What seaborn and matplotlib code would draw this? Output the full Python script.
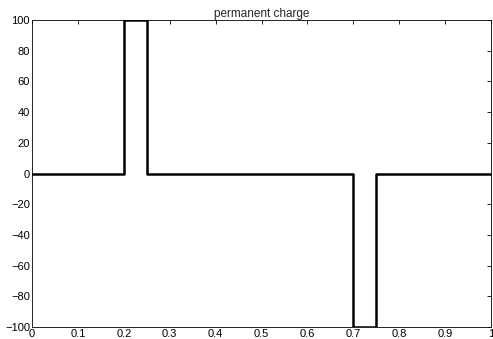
import numpy as np
import pandas as pd
import seaborn as sns
import matplotlib
matplotlib.use("Agg")
import matplotlib.pyplot as plt

# breakpoints along x and the charge on each interval
edges = [0.0, 0.2, 0.25, 0.7, 0.75, 1.0]
charge = [0, 100, 0, -100, 0]

xticks = [0, 0.1, 0.2, 0.3, 0.4, 0.5, 0.6, 0.7, 0.8, 0.9, 1]
xticklabels = ["0", "0.1", "0.2", "0.3", "0.4", "0.5", "0.6", "0.7", "0.8", "0.9", "1"]
yticks = [-100, -80, -60, -40, -20, 0, 20, 40, 60, 80, 100]

# step outline: each interval contributes its two endpoints
xs = np.repeat(edges, 2)[1:-1]
ys = np.repeat(charge, 2)
df = pd.DataFrame({"x": xs, "y": ys})

sns.set_style("white")
plt.rcParams['font.family'] = ['Liberation Sans', 'DejaVu Sans']

fig = plt.figure(figsize=(4.93, 3.39), dpi=100)
ax = fig.add_axes([0.065, 0.035, 0.931, 0.906])

sns.lineplot(data=df, x="x", y="y", estimator=None, sort=False,
             color="black", linewidth=1.8, ax=ax)

ax.set_xlim(0, 1)
ax.set_ylim(-100, 100)
ax.set_xticks(xticks)
ax.set_xticklabels(xticklabels)
ax.set_yticks(yticks)
ax.set_xlabel("")
ax.set_ylabel("")
ax.set_title("permanent charge", fontsize=8.5, pad=2)
ax.tick_params(direction="in", length=3, width=0.6, labelsize=8,
               top=True, right=True, pad=1.5, colors="black")
for sp in ax.spines.values():
    sp.set_visible(True)
    sp.set_linewidth(0.6)
    sp.set_color("black")

fig.savefig("out.png", dpi=100)
